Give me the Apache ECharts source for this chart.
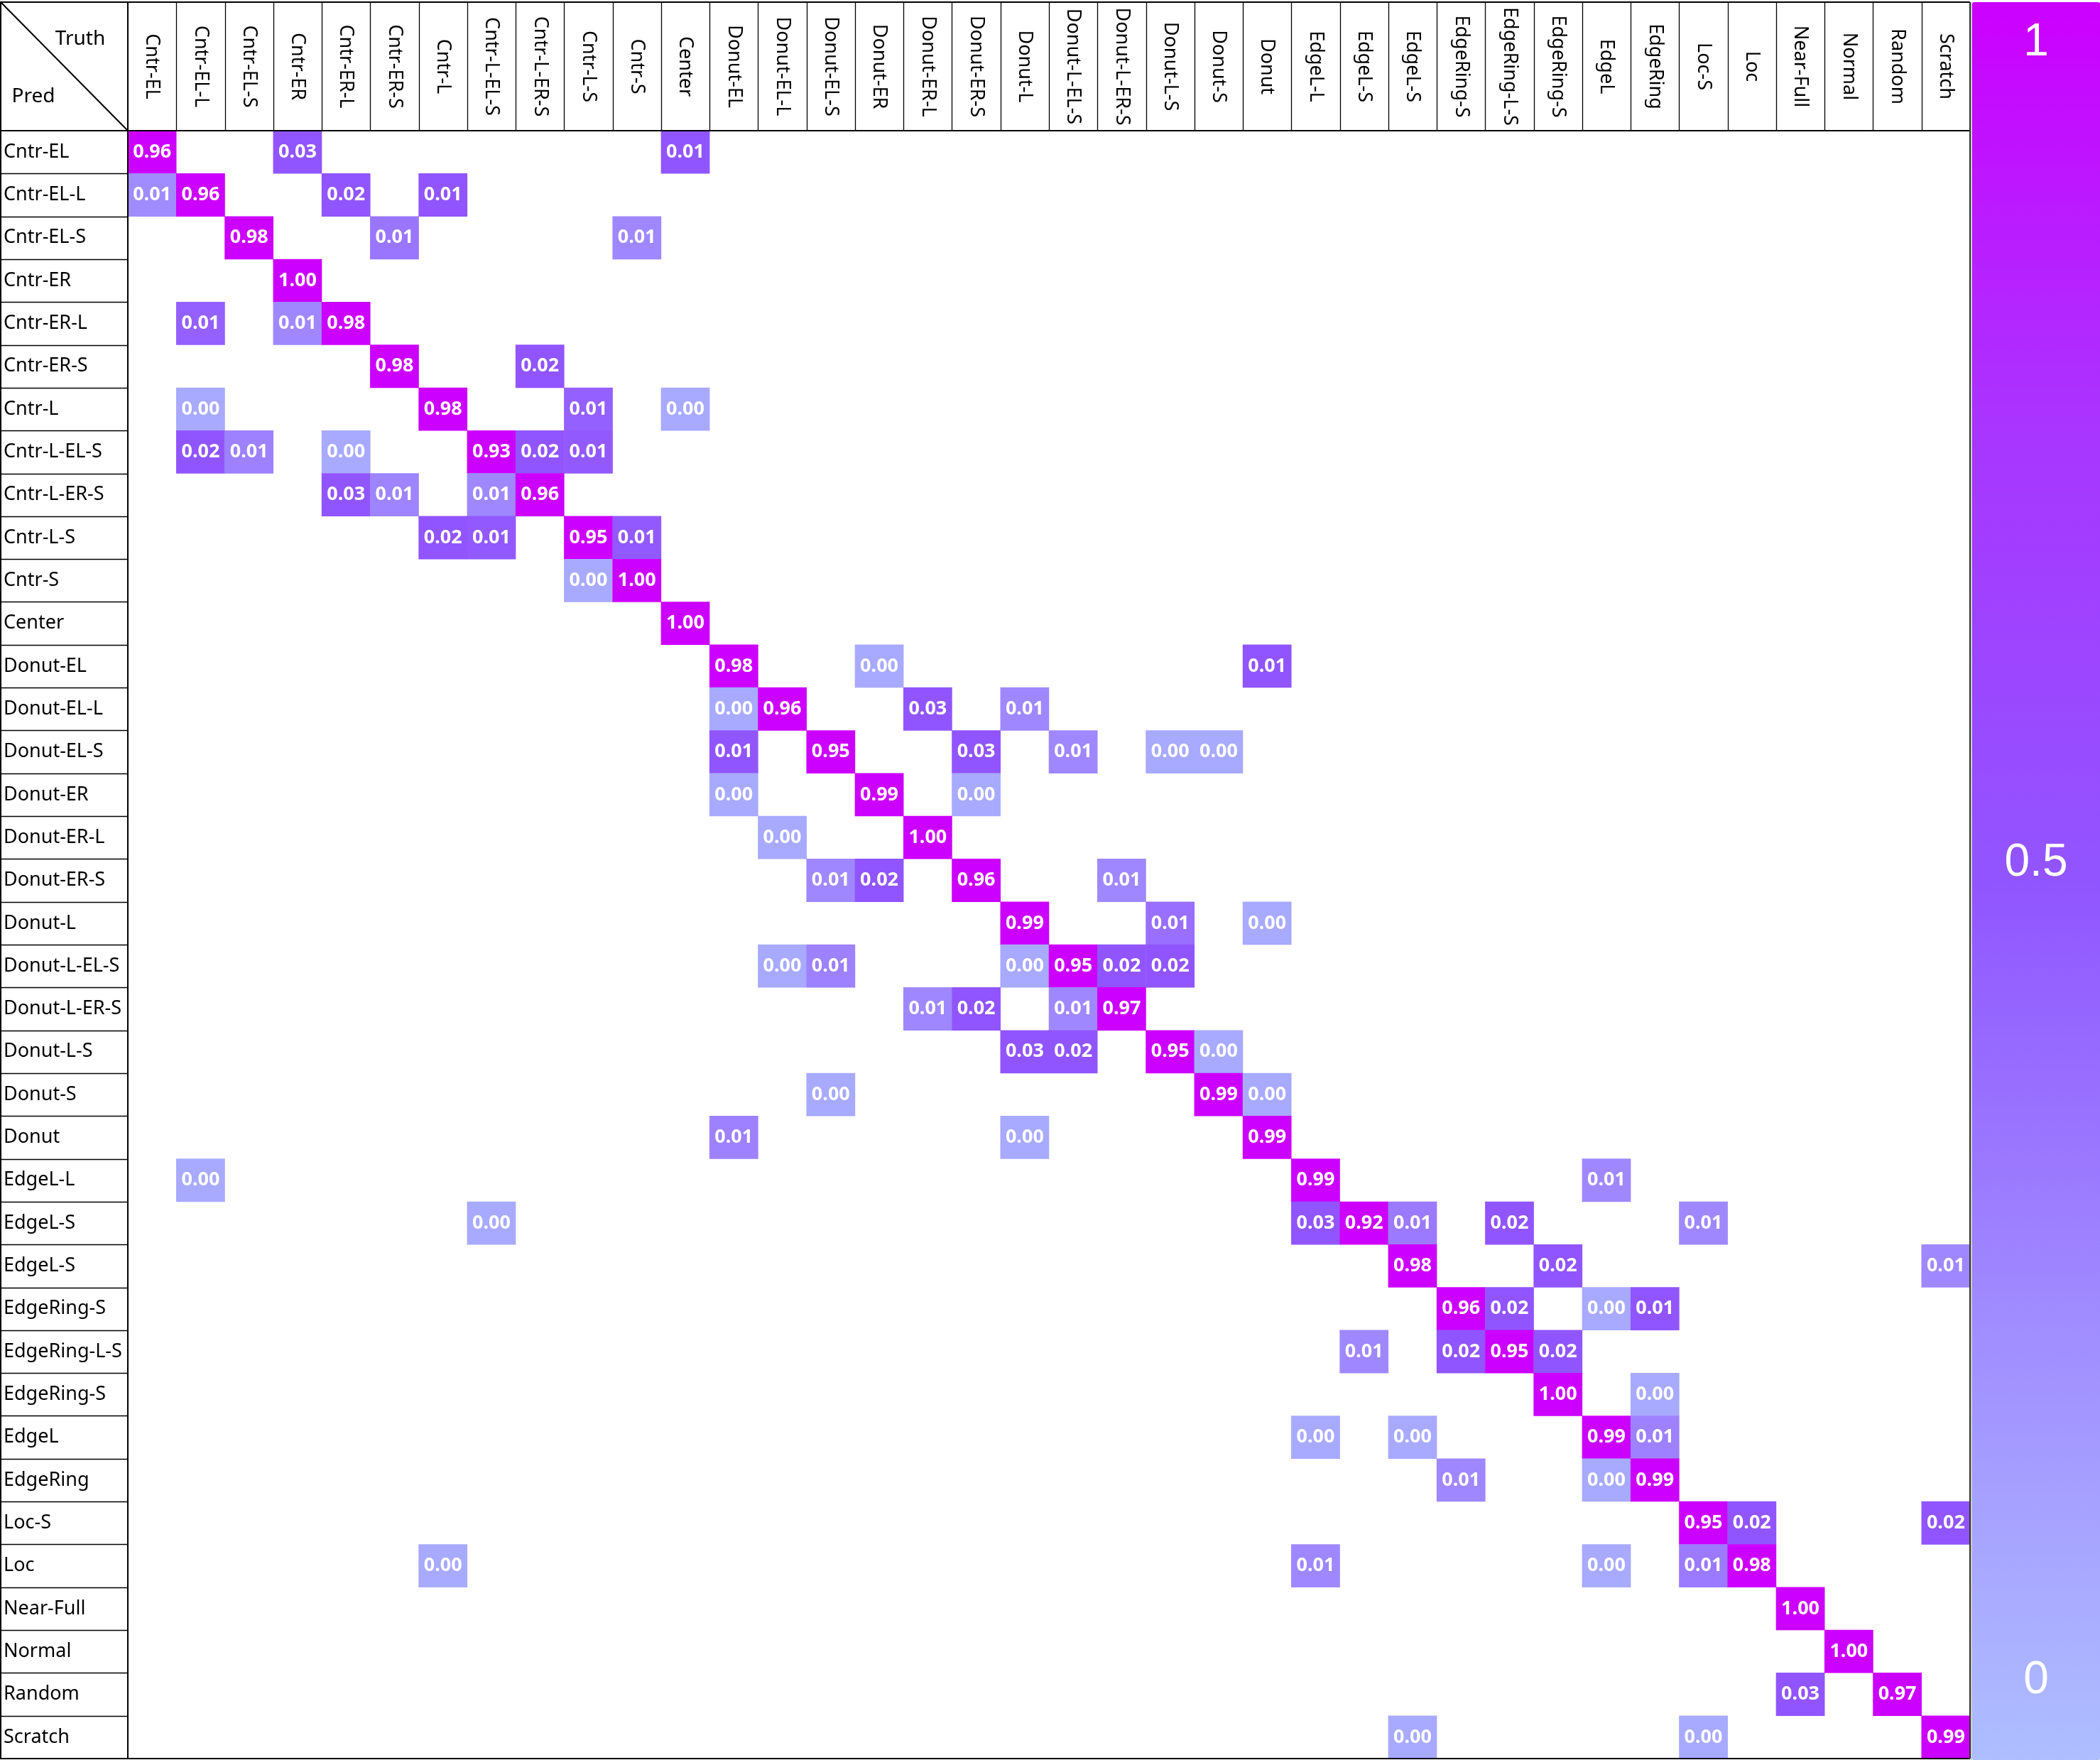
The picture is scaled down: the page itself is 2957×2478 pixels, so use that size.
<!DOCTYPE html>
<html><head><meta charset="utf-8">
<script src="https://cdn.jsdelivr.net/npm/echarts@6/dist/echarts.min.js"></script>
<style>html,body{margin:0;padding:0;background:#fff}#c{width:2957px;height:2478px}</style>
</head><body><div id="c"></div><script>
// Category names (Truth = columns, Pred = rows)
const truthLabels = ['Cntr-EL','Cntr-EL-L','Cntr-EL-S','Cntr-ER','Cntr-ER-L','Cntr-ER-S','Cntr-L','Cntr-L-EL-S','Cntr-L-ER-S','Cntr-L-S','Cntr-S','Center','Donut-EL','Donut-EL-L','Donut-EL-S','Donut-ER','Donut-ER-L','Donut-ER-S','Donut-L','Donut-L-EL-S','Donut-L-ER-S','Donut-L-S','Donut-S','Donut','EdgeL-L','EdgeL-S','EdgeL-S','EdgeRing-S','EdgeRing-L-S','EdgeRing-S','EdgeL','EdgeRing','Loc-S','Loc','Near-Full','Normal','Random','Scratch'];
const predLabels = truthLabels.slice();
// Cells: [predRowIndex, truthColIndex, shownValue, colourShade]
const cells = [
 [0,0,0.96,1],[0,3,0.03,0.5],[0,11,0.01,0.5],
 [1,0,0.01,0.25],[1,1,0.96,1],[1,4,0.02,0.5],[1,6,0.01,0.5],
 [2,2,0.98,1],[2,5,0.01,0.35],[2,10,0.01,0.27],
 [3,3,1.00,1],
 [4,1,0.01,0.45],[4,3,0.01,0.27],[4,4,0.98,1],
 [5,5,0.98,1],[5,8,0.02,0.5],
 [6,1,0.00,0.1],[6,6,0.98,1],[6,9,0.01,0.45],[6,11,0.00,0.1],
 [7,1,0.02,0.5],[7,2,0.01,0.3],[7,4,0.00,0.1],[7,7,0.93,1],[7,8,0.02,0.5],[7,9,0.01,0.48],
 [8,4,0.03,0.5],[8,5,0.01,0.28],[8,7,0.01,0.27],[8,8,0.96,1],
 [9,6,0.02,0.5],[9,7,0.01,0.48],[9,9,0.95,1],[9,10,0.01,0.48],
 [10,9,0.00,0.1],[10,10,1.00,1],
 [11,11,1.00,1],
 [12,12,0.98,1],[12,15,0.00,0.1],[12,23,0.01,0.5],
 [13,12,0.00,0.1],[13,13,0.96,1],[13,16,0.03,0.5],[13,18,0.01,0.27],
 [14,12,0.01,0.5],[14,14,0.95,1],[14,17,0.03,0.5],[14,19,0.01,0.27],[14,21,0.00,0.1],[14,22,0.00,0.1],
 [15,12,0.00,0.1],[15,15,0.99,1],[15,17,0.00,0.1],
 [16,13,0.00,0.1],[16,16,1.00,1],
 [17,14,0.01,0.27],[17,15,0.02,0.5],[17,17,0.96,1],[17,20,0.01,0.27],
 [18,18,0.99,1],[18,21,0.01,0.38],[18,23,0.00,0.1],
 [19,13,0.00,0.1],[19,14,0.01,0.3],[19,18,0.00,0.1],[19,19,0.95,1],[19,20,0.02,0.5],[19,21,0.02,0.5],
 [20,16,0.01,0.27],[20,17,0.02,0.5],[20,19,0.01,0.27],[20,20,0.97,1],
 [21,18,0.03,0.5],[21,19,0.02,0.5],[21,21,0.95,1],[21,22,0.00,0.1],
 [22,14,0.00,0.1],[22,22,0.99,1],[22,23,0.00,0.1],
 [23,12,0.01,0.3],[23,18,0.00,0.1],[23,23,0.99,1],
 [24,1,0.00,0.1],[24,24,0.99,1],[24,30,0.01,0.27],
 [25,7,0.00,0.1],[25,24,0.03,0.5],[25,25,0.92,1],[25,26,0.01,0.33],[25,28,0.02,0.5],[25,32,0.01,0.27],
 [26,26,0.98,1],[26,29,0.02,0.5],[26,37,0.01,0.27],
 [27,27,0.96,1],[27,28,0.02,0.5],[27,30,0.00,0.1],[27,31,0.01,0.5],
 [28,25,0.01,0.27],[28,27,0.02,0.5],[28,28,0.95,1],[28,29,0.02,0.5],
 [29,29,1.00,1],[29,31,0.00,0.1],
 [30,24,0.00,0.1],[30,26,0.00,0.1],[30,30,0.99,1],[30,31,0.01,0.3],
 [31,27,0.01,0.27],[31,30,0.00,0.1],[31,31,0.99,1],
 [32,32,0.95,1],[32,33,0.02,0.5],[32,37,0.02,0.5],
 [33,6,0.00,0.1],[33,24,0.01,0.27],[33,30,0.00,0.1],[33,32,0.01,0.33],[33,33,0.98,1],
 [34,34,1.00,1],
 [35,35,1.00,1],
 [36,34,0.03,0.5],[36,36,0.97,1],
 [37,26,0.00,0.1],[37,32,0.00,0.1],[37,37,0.99,1]
];
const colorbarTicks = [{text:'1', pos:0.977}, {text:'0.5', pos:0.51}, {text:'0', pos:0.045}];
const colorStops = ['#AEBEFF','#A08CFF','#9155FF','#A836FF','#CC00FF'];

// Layout
const GL = 180, GT = 184, GR = 2774, GB = 2476, TOP = 3;
const nC = truthLabels.length, nR = predLabels.length;
const cw = (GR - GL) / nC, rh = (GB - GT) / nR;
const FONT = '"Noto Sans", "Open Sans", sans-serif';

const chart = echarts.init(document.getElementById('c'), null, {renderer:'canvas'});
const graphics = [];
const line = (x1,y1,x2,y2,w,c) => graphics.push({type:'line', z:10, silent:true, shape:{x1,y1,x2,y2}, style:{stroke:c||'#000', lineWidth:w}});
// header column separators
for (let k = 1; k < nC; k++) { const x = Math.round(GL + cw*k) + 0.5; line(x, TOP, x, GT, 1.3); }
// row label separators
for (let k = 1; k < nR; k++) { const y = Math.round(GT + rh*k) + 0.5; line(0, y, GL, y, 1.3); }
// borders
line(0, TOP, GR, TOP, 2);
line(0, GB, GR, GB, 2);
line(1, TOP, 1, GB, 2);
line(GL, TOP, GL, GB, 2);
line(0, GT, GR, GT, 2);
line(GR, TOP, GR, GB, 2, '#333');
line(GR+2, TOP, GR+2, 2478, 1, '#999');
line(1, TOP, GL, GT, 2);
graphics.push({type:'text', z:10, x:113, y:55, style:{text:'Truth', font:'28px '+FONT, fill:'#000', align:'center', verticalAlign:'middle'}});
graphics.push({type:'text', z:10, x:47, y:136, style:{text:'Pred', font:'28px '+FONT, fill:'#000', align:'center', verticalAlign:'middle'}});
const cbTop = TOP, cbH = 2478 - TOP, cbX = (GR + 3 + 2957) / 2;
colorbarTicks.forEach(t => {
  graphics.push({type:'text', z:100, x:cbX, y: cbTop + (1 - t.pos) * cbH, style:{text:t.text, font:'64px "Liberation Sans", Arial, sans-serif', fill:'#fff', align:'center', verticalAlign:'middle'}});
});

chart.setOption({
  animation:false,
  backgroundColor:'#fff',
  grid:{left:GL, top:GT, width:GR-GL, height:GB-GT, show:false},
  xAxis:{type:'category', position:'top', data:truthLabels,
    axisLine:{show:false}, axisTick:{show:false}, splitLine:{show:false},
    axisLabel:{interval:0, rotate:90, align:'center', verticalAlign:'middle', margin:(GT-TOP)/2, fontSize:27, fontFamily:FONT, color:'#000'}},
  yAxis:{type:'category', inverse:true, data:predLabels,
    axisLine:{show:false}, axisTick:{show:false}, splitLine:{show:false},
    axisLabel:{interval:0, align:'left', margin:GL-5, fontSize:27, fontFamily:FONT, color:'#000'}},
  visualMap:{type:'continuous', show:true, dimension:3, min:0, max:1, calculable:false, hoverLink:false,
    left:GR+3, top:cbTop, itemWidth:2957-GR-3, itemHeight:cbH, padding:0, text:null,
    showLabel:false, inRange:{color:colorStops}},
  series:[{type:'heatmap',
    data: cells.map(c => [c[1], c[0], c[2], c[3]]),
    label:{show:true, color:'#fff', fontSize:27, fontWeight:'bold', fontFamily:FONT,
      formatter: p => p.value[2].toFixed(2)},
    itemStyle:{borderWidth:0},
    emphasis:{disabled:true}
  }],
  graphic: graphics
});
</script></body></html>
